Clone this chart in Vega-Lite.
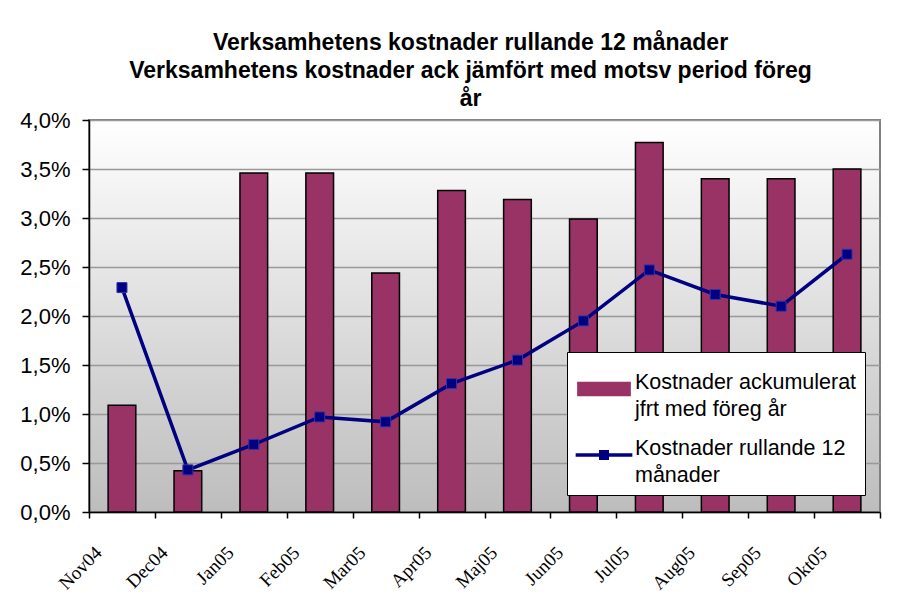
{
  "$schema": "https://vega.github.io/schema/vega-lite/v6.json",
  "width": 791,
  "height": 392,
  "autosize": "none",
  "padding": {"left": 89, "top": 120, "right": 22, "bottom": 82},
  "background": "white",
  "config": {
    "locale": {"number": {"decimal": ",", "thousands": " ", "grouping": [3], "currency": ["", " kr"]}},
    "font": "Liberation Sans",
    "style": {"guide-label": {"lineHeight": 27}},
    "view": {
      "fill": {"gradient": "linear", "x1": 0, "y1": 0, "x2": 0, "y2": 1, "stops": [{"offset": 0, "color": "#ffffff"}, {"offset": 1, "color": "#bdbdbd"}]},
      "stroke": "#808080",
      "strokeWidth": 2
    }
  },
  "title": {
    "text": ["Verksamhetens kostnader rullande 12 månader", "Verksamhetens kostnader ack jämfört med motsv period föreg", "år"],
    "font": "Liberation Sans",
    "fontSize": 23,
    "fontWeight": "bold",
    "color": "black",
    "lineHeight": 28,
    "anchor": "middle",
    "frame": "group",
    "dx": -14,
    "dy": 10,
    "offset": 8
  },
  "data": {
    "values": [
      {"month": "Nov04", "ack": 0.0109, "rull": 0.0229},
      {"month": "Dec04", "ack": 0.0042, "rull": 0.0043},
      {"month": "Jan05", "ack": 0.0346, "rull": 0.0069},
      {"month": "Feb05", "ack": 0.0346, "rull": 0.0097},
      {"month": "Mar05", "ack": 0.0244, "rull": 0.0092},
      {"month": "Apr05", "ack": 0.0328, "rull": 0.0131},
      {"month": "Maj05", "ack": 0.0319, "rull": 0.0155},
      {"month": "Jun05", "ack": 0.0299, "rull": 0.0195},
      {"month": "Jul05", "ack": 0.0377, "rull": 0.0247},
      {"month": "Aug05", "ack": 0.0340, "rull": 0.0222},
      {"month": "Sep05", "ack": 0.0340, "rull": 0.0210},
      {"month": "Okt05", "ack": 0.0350, "rull": 0.0263}
    ]
  },
  "encoding": {
    "x": {
      "field": "month",
      "type": "ordinal",
      "sort": null,
      "scale": {"paddingInner": 0, "paddingOuter": 0},
      "axis": {
        "title": null,
        "labelAngle": -45,
        "labelFont": "Liberation Serif",
        "labelFontSize": 19,
        "labelColor": "black",
        "labelOffset": -30,
        "labelPadding": 25,
        "tickBand": "extent",
        "tickSize": 6,
        "tickColor": "black",
        "tickWidth": 1.5,
        "domainColor": "black",
        "domainWidth": 1.5,
        "grid": false
      }
    }
  },
  "layer": [
    {
      "mark": {"type": "bar", "width": {"band": 0.42}, "stroke": "black", "strokeWidth": 1.5},
      "encoding": {
        "y": {
          "field": "ack",
          "type": "quantitative",
          "scale": {"domain": [0, 0.04], "nice": false},
          "axis": {
            "title": null,
            "format": ".1%",
            "values": [0, 0.005, 0.01, 0.015, 0.02, 0.025, 0.03, 0.035, 0.04],
            "labelFont": "Liberation Sans",
            "labelFontSize": 22,
            "labelColor": "black",
            "labelPadding": 12,
            "tickSize": 7,
            "tickColor": "black",
            "tickWidth": 1.5,
            "domainColor": "black",
            "domainWidth": 1.5,
            "grid": true,
            "gridColor": "#999999",
            "gridWidth": 1.5
          }
        },
        "color": {
          "datum": "Kostnader ackumulerat jfrt med föreg år",
          "scale": {"domain": ["Kostnader ackumulerat jfrt med föreg år", "Kostnader rullande 12 månader"], "range": ["#993366", "#000080"]},
          "legend": {
            "title": null,
            "orient": "none",
            "legendX": 478,
            "legendY": 232,
            "fillColor": "white",
            "strokeColor": "black",
            "padding": 8,
            "symbolSize": 2916,
            "symbolType": {"expr": "datum.value == 'Kostnader rullande 12 månader' ? 'M-1.05,0H1.05M-0.12,-0.12H0.12V0.12H-0.12Z' : 'M-0.93,-0.2H0.93V0.2H-0.93Z'"},
            "symbolStrokeWidth": 3.5,
            "symbolOpacity": 1,
            "labelFont": "Liberation Sans",
            "labelFontSize": 21.5,
            "labelColor": "black",
            "labelBaseline": "alphabetic",
            "labelOffset": 2,
            "labelLimit": 300,
            "rowPadding": 5,
            "labelExpr": "datum.label == 'Kostnader rullande 12 månader' ? ['Kostnader rullande 12', 'månader'] : ['Kostnader ackumulerat', 'jfrt med föreg år']"
          }
        }
      }
    },
    {
      "mark": {"type": "line", "strokeWidth": 3.5},
      "encoding": {
        "y": {"field": "rull", "type": "quantitative"},
        "color": {"datum": "Kostnader rullande 12 månader"}
      }
    },
    {
      "mark": {"type": "point", "shape": "square", "size": 100, "filled": true, "color": "#000080", "stroke": "#3333aa", "strokeWidth": 1, "opacity": 1},
      "encoding": {
        "y": {"field": "rull", "type": "quantitative"}
      }
    }
  ]
}
